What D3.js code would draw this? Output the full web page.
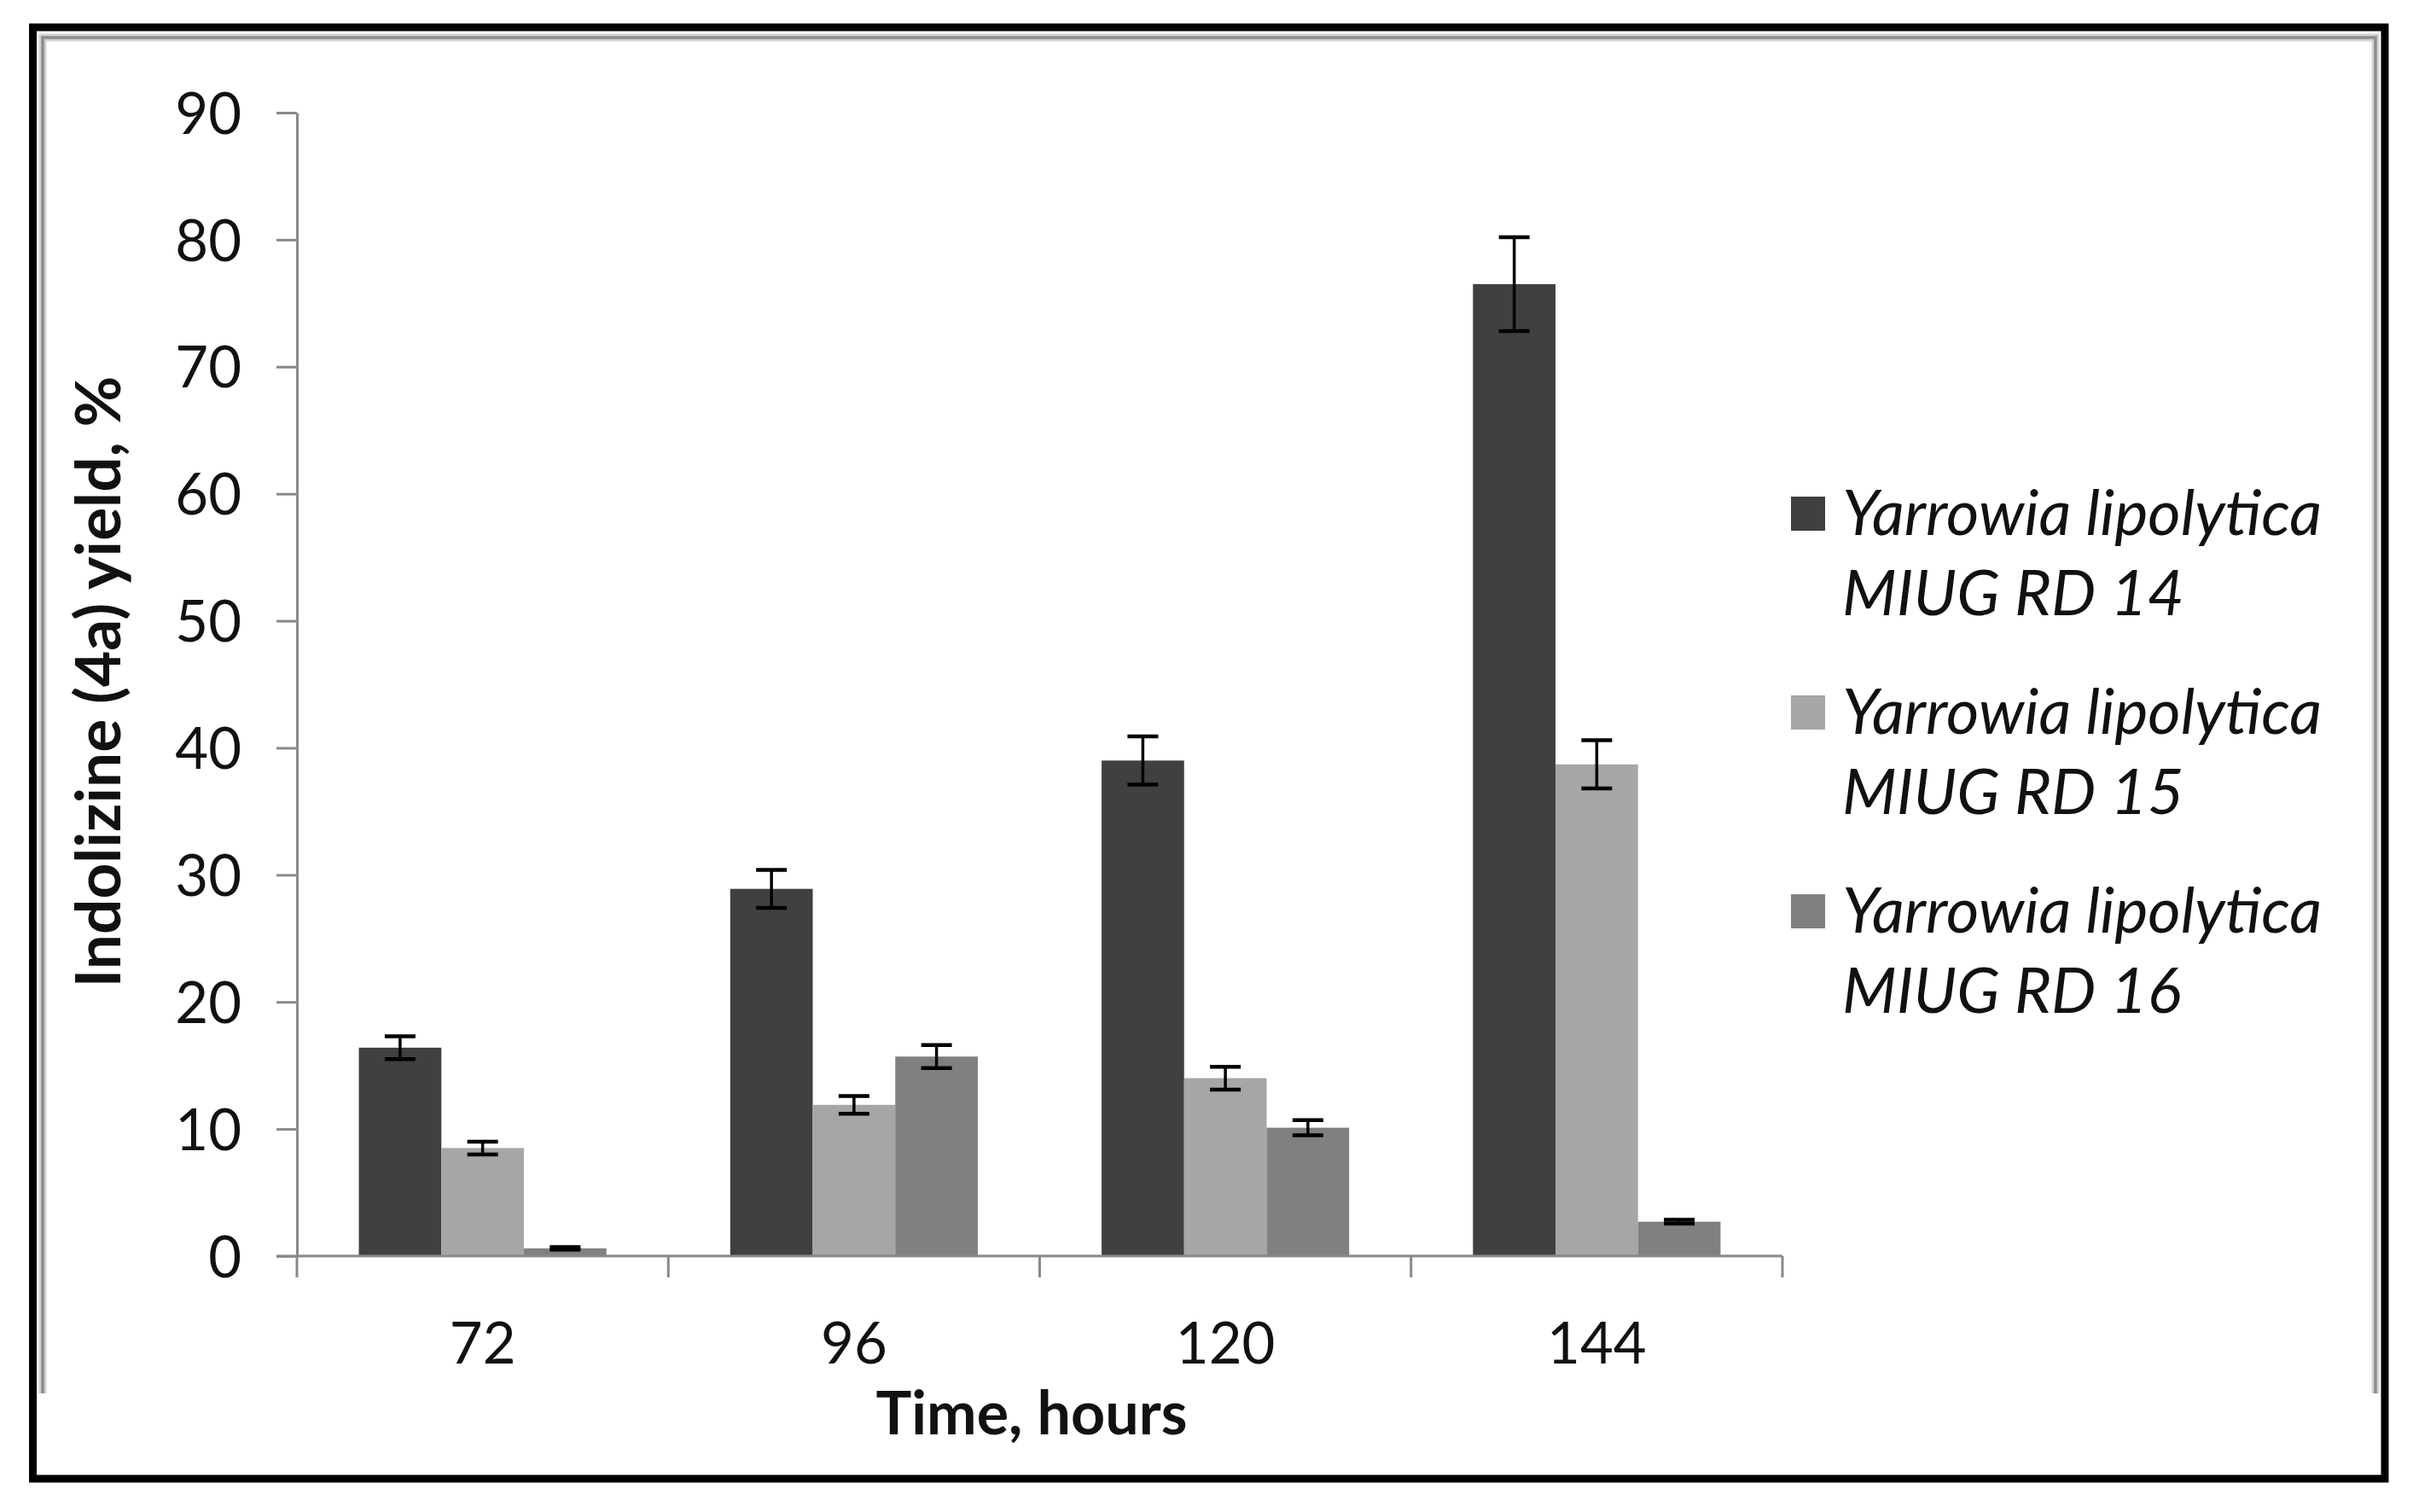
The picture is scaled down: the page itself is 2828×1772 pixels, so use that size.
<!DOCTYPE html>
<html><head><meta charset="utf-8">
<script src="https://cdn.jsdelivr.net/npm/d3@7"></script>
<style>html,body{margin:0;padding:0;background:#fff;} svg{display:block;}</style>
</head><body><svg id="chart" width="2828" height="1772"></svg>
<script>
// ---- data ----
const categories = ["72", "96", "120", "144"];
const seriesLine1 = ["Yarrowia lipolytica", "Yarrowia lipolytica", "Yarrowia lipolytica"];
const seriesLine2 = ["MIUG RD 14", "MIUG RD 15", "MIUG RD 16"];
const rd14 = [16.4, 28.9, 39.0, 76.5];
const rd15 = [8.5, 11.9, 14.0, 38.7];
const rd16 = [0.6, 15.7, 10.1, 2.7];
const rd14Err = [0.9, 1.5, 1.9, 3.7];
const rd15Err = [0.5, 0.7, 0.9, 1.9];
const rd16Err = [0.1, 0.9, 0.6, 0.15];
const yTicks = [0, 10, 20, 30, 40, 50, 60, 70, 80, 90];
const xTitle = "Time, hours";
const yTitle = "Indolizine (4a) yield, %";

const seriesValues = [rd14, rd15, rd16];
const seriesErrors = [rd14Err, rd15Err, rd16Err];
const colors = ["#404040", "#a6a6a6", "#808080"];
const FONT = "Lato, 'Open Sans', sans-serif";

const svg = d3.select("#chart");

// frame
svg.append("rect").attr("x", 38.5).attr("y", 32).attr("width", 2756.5).attr("height", 1701)
  .attr("fill", "none").attr("stroke", "#000").attr("stroke-width", 9);
svg.append("path").attr("d", "M50,1633V44H2784V1633").attr("fill", "none")
  .attr("stroke", "#d2d2d2").attr("stroke-width", 9);
svg.append("path").attr("d", "M50,1633V44H2784V1633").attr("fill", "none")
  .attr("stroke", "#8c8c8c").attr("stroke-width", 3.5);

// scales
const x0 = d3.scaleBand().domain(categories).range([348, 2089]).paddingInner(0).paddingOuter(0);
const x1 = d3.scaleBand().domain(d3.range(3)).range([0, x0.bandwidth()]).paddingInner(0).paddingOuter(0.75);
const y = d3.scaleLinear().domain([0, 90]).range([1472, 132]);

const axisColor = "#898989";

// y axis
const yAxis = svg.append("g").attr("transform", "translate(348,0)")
  .call(d3.axisLeft(y).tickValues(yTicks).tickSize(24).tickSizeOuter(0).tickPadding(41));
yAxis.select(".domain").attr("stroke", axisColor).attr("stroke-width", 3);
yAxis.selectAll(".tick line").attr("stroke", axisColor).attr("stroke-width", 3);
yAxis.selectAll(".tick text").attr("font-family", FONT).attr("font-size", 67).attr("fill", "#111").attr("dy", "0.36em");

// bars
const groups = svg.append("g").selectAll("g").data(categories).join("g")
  .attr("transform", d => `translate(${x0(d)},0)`);
groups.each(function(cat, ci) {
  const g = d3.select(this);
  const rows = seriesValues.map((vals, si) => ({ si, v: vals[ci], e: seriesErrors[si][ci] }));
  g.selectAll("rect").data(rows).join("rect")
    .attr("x", d => x1(d.si)).attr("width", x1.bandwidth())
    .attr("y", d => y(d.v)).attr("height", d => y(0) - y(d.v))
    .attr("fill", d => colors[d.si]);
  const eb = g.selectAll("g.err").data(rows).join("g").attr("class", "err");
  const cx = d => x1(d.si) + x1.bandwidth() / 2;
  eb.append("line").attr("x1", cx).attr("x2", cx)
    .attr("y1", d => y(d.v + d.e)).attr("y2", d => y(d.v - d.e))
    .attr("stroke", "#000").attr("stroke-width", 3.5);
  eb.append("line").attr("x1", d => cx(d) - 18).attr("x2", d => cx(d) + 18)
    .attr("y1", d => y(d.v + d.e)).attr("y2", d => y(d.v + d.e))
    .attr("stroke", "#000").attr("stroke-width", 4.5);
  eb.append("line").attr("x1", d => cx(d) - 18).attr("x2", d => cx(d) + 18)
    .attr("y1", d => y(d.v - d.e)).attr("y2", d => y(d.v - d.e))
    .attr("stroke", "#000").attr("stroke-width", 4.5);
});

// x axis
const xAxis = svg.append("g").attr("transform", "translate(0,1472)")
  .call(d3.axisBottom(x0).tickSize(0).tickSizeOuter(0).tickPadding(126));
xAxis.select(".domain").remove();
xAxis.selectAll(".tick text").attr("font-family", FONT).attr("font-size", 67).attr("fill", "#111").attr("dy", 0);
xAxis.append("line").attr("x1", 324).attr("x2", 2089).attr("y1", 0).attr("y2", 0)
  .attr("stroke", axisColor).attr("stroke-width", 3);
const bounds = categories.map(c => x0(c)).concat([x0.range()[1]]);
xAxis.selectAll("line.bt").data(bounds).join("line").attr("class", "bt")
  .attr("x1", d => d).attr("x2", d => d).attr("y1", 0).attr("y2", 25)
  .attr("stroke", axisColor).attr("stroke-width", 3);

// axis titles
svg.append("text").attr("x", 1209).attr("y", 1681).attr("text-anchor", "middle")
  .attr("font-family", FONT).attr("font-size", 70).attr("font-weight", "bold").attr("fill", "#111")
  .text(xTitle);
svg.append("text").attr("transform", "translate(141,799) rotate(-90)").attr("text-anchor", "middle")
  .attr("font-family", FONT).attr("font-size", 73).attr("font-weight", "bold").attr("fill", "#111")
  .text(yTitle);

// legend
const leg = svg.append("g").selectAll("g").data(d3.range(3)).join("g")
  .attr("transform", i => `translate(2099,${582 + i * 233})`);
leg.append("rect").attr("width", 40).attr("height", 40).attr("fill", i => colors[i]);
leg.append("text").attr("x", 60).attr("y", 45).attr("font-family", FONT).attr("font-size", 74)
  .attr("font-style", "italic").attr("fill", "#111").text(i => seriesLine1[i]);
leg.append("text").attr("x", 60).attr("y", 139).attr("font-family", FONT).attr("font-size", 74)
  .attr("font-style", "italic").attr("fill", "#111").text(i => seriesLine2[i]);
</script></body></html>
